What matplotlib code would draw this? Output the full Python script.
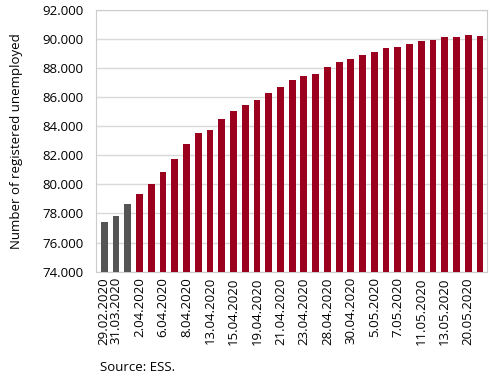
import matplotlib
matplotlib.use("Agg")
import matplotlib.pyplot as plt

plt.rcParams['font.family'] = ['Open Sans', 'DejaVu Sans']

# one bar per reporting day, only every other date is labelled in the source
tick_labels = ['29.02.2020', '31.03.2020', '', '2.04.2020', '', '6.04.2020', '', '8.04.2020',
               '', '13.04.2020', '', '15.04.2020', '', '19.04.2020', '', '21.04.2020', '',
               '23.04.2020', '', '28.04.2020', '', '30.04.2020', '', '5.05.2020', '',
               '7.05.2020', '', '11.05.2020', '', '13.05.2020', '', '20.05.2020', '']
unemployed = [77440, 77830, 78660, 79370, 80010, 80880, 81730, 82770, 83560, 83750,
              84490, 85080, 85470, 85790, 86270, 86690, 87190, 87440, 87600, 88060,
              88410, 88610, 88910, 89120, 89370, 89460, 89650, 89870, 89940, 90130,
              90120, 90290, 90240]
n_before = 3  # bars before the epidemic was declared

colors = ['#555555'] * n_before + ['#9b001f'] * (len(unemployed) - n_before)

fig = plt.figure(figsize=(4.9, 3.82), dpi=100)
ax = fig.add_axes([0.196, 0.289, 0.798, 0.685])

xs = list(range(len(unemployed)))
ax.bar(xs, unemployed, width=0.58, color=colors, zorder=3)

ax.set_ylim(74000, 92000)
ax.set_xlim(-0.7, len(unemployed) - 0.4)
yt = list(range(74000, 92001, 2000))
ax.set_yticks(yt)
ax.set_yticklabels([f"{v // 1000}.000" for v in yt], fontsize=9.5)
ax.set_xticks(xs)
ax.set_xticklabels(tick_labels, rotation=90, fontsize=9.5)
ax.tick_params(axis='y', length=0, pad=9)
ax.tick_params(axis='x', length=0, pad=4)
ax.grid(axis='y', color='#d9d9d9', linewidth=1, zorder=0)
for s in ax.spines.values():
    s.set_color('#cccccc')

ax.set_ylabel('Number of registered unemployed', fontsize=9.5, labelpad=14)
fig.text(0.204, 0.03, 'Source: ESS.', fontsize=9.5)

plt.savefig('out.png')
